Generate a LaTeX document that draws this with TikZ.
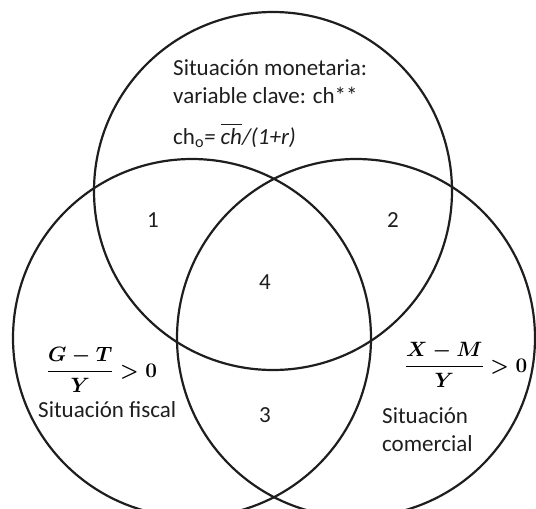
\documentclass[tikz,border=0pt]{standalone}
\usepackage{amsmath}
\usepackage{fontspec}
\setmainfont{Carlito}
\usepackage{tikz}
\usetikzlibrary{positioning}
\definecolor{tinta}{HTML}{1E1E1E}

\begin{document}
\begin{tikzpicture}[
  x=1pt,y=-1pt,
  conjunto/.style={draw=tinta,circle,line width=2.2pt,inner sep=0pt,minimum size=358pt},
  rotulo/.style={font=\fontsize{23}{28}\selectfont,text=tinta,inner sep=0pt},
  numero/.style={rotulo,anchor=center},
  razon/.style={font=\fontsize{21}{26}\selectfont\boldmath,inner sep=0pt}
]
  \useasboundingbox (0,0) rectangle (536,509);
  \node[conjunto] (mon) at (273,191) {};
  \node[conjunto] (fis) at (192,338) {};
  \node[conjunto] (com) at (356,338) {};

  \node[rotulo,anchor=base west,align=left] (montxt) at (173,103)
    {Situación monetaria:\\variable clave: ch**};
  \node[rotulo,anchor=base west] (chform) at (173,144)
    {ch\textsubscript{o}\textit{= $\overline{\textit{ch}}$/(1+r)}};

  \node[numero] (n1) at (153,220) {1};
  \node[numero] (n2) at (393,220) {2};
  \node[numero] (n4) at (265,282) {4};
  \node[numero] (n3) at (265,415) {3};

  \node[razon,anchor=center] (gt) at (102,370) {$\dfrac{G-T}{Y}>0$};
  \node[rotulo,anchor=base west] (fistxt) at (38,417) {Situación fiscal};
  \node[razon,anchor=center] (xm) at (466,365) {$\dfrac{X-M}{Y}>0$};
  \node[rotulo,anchor=base west,align=left] (comtxt) at (382,451)
    {Situación\\comercial};
\end{tikzpicture}
\end{document}
